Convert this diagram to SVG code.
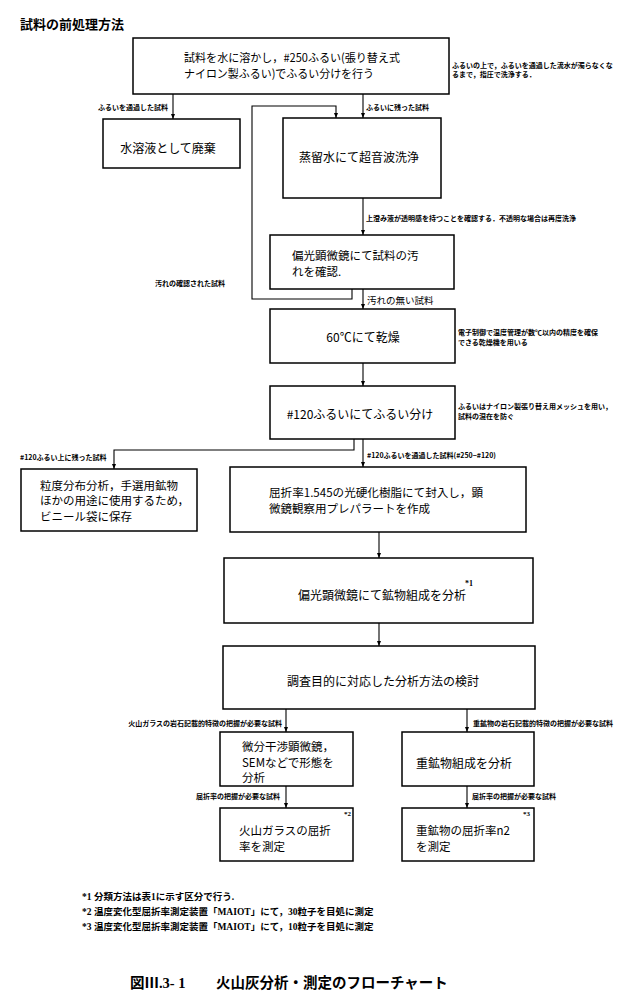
<svg xmlns="http://www.w3.org/2000/svg" width="625" height="996" viewBox="0 0 625 996">
<defs>
<style>
.box{fill:#fff;stroke:#000;stroke-width:1.5}
.t{font-family:"Noto Sans CJK JP","Noto Sans",sans-serif;font-size:12px;fill:#000}
.m{font-family:"Noto Sans CJK JP","Noto Sans",sans-serif;font-size:11.5px;fill:#000}
.s{font-family:"Noto Sans CJK JP","Noto Sans",sans-serif;font-size:7px;font-weight:700;fill:#000}
.c{stroke:#000;stroke-width:1.1;fill:none}
.a{marker-end:url(#arr)}
.fn{font-family:"Liberation Serif","Noto Sans CJK JP",serif;font-size:9.5px;font-weight:700;fill:#000}
.cap{font-family:"Liberation Serif","Noto Sans CJK JP",serif;font-size:14.5px;font-weight:700;fill:#000}
</style>
<marker id="arr" markerUnits="userSpaceOnUse" markerWidth="6" markerHeight="6" refX="5.5" refY="3" orient="auto">
<path d="M0,0.8 L5.5,3 L0,5.2 z" fill="#000"/>
</marker>
</defs>
<rect width="625" height="996" fill="#fff"/>
<text x="20" y="28.5" style="font-family:'Noto Sans CJK JP',sans-serif;font-size:13px;font-weight:700">試料の前処理方法</text>

<g id="connectors">
<path class="c a" d="M173,94 V119"/>
<path class="c a" d="M363,94 V118"/>
<path class="c a" d="M352,289 V299 H252 V106 H336 V118"/>
<path class="c a" d="M363,198 V235"/>
<path class="c a" d="M363,289 V309"/>
<path class="c a" d="M363,363 V386"/>
<path class="c a" d="M354,439 V450 H114 V469"/>
<path class="c a" d="M363,439 V467"/>
<path class="c a" d="M379,532 V558"/>
<path class="c a" d="M379,623 V646"/>
<path class="c a" d="M286,709 V732"/>
<path class="c a" d="M467,709 V732"/>
<path class="c a" d="M286,786 V808"/>
<path class="c a" d="M467,786 V808"/>
<text class="s" x="168" y="109.5" text-anchor="end">ふるいを通過した試料</text>
<text class="s" x="366" y="109.5">ふるいに残った試料</text>
<text class="s" x="366" y="220.5">上澄み液が透明感を持つことを確認する．不透明な場合は再度洗浄</text>
<text class="s" x="155" y="285.5">汚れの確認された試料</text>
<text x="367" y="303.5" style="font-family:'Noto Sans CJK JP',sans-serif;font-size:9.5px">汚れの無い試料</text>
<text class="s" x="20" y="459.5">#120ふるい上に残った試料</text>
<text class="s" x="367" y="457.5">#120ふるいを通過した試料(#250−#120)</text>
<text class="s" x="282" y="725.6" text-anchor="end">火山ガラスの岩石記載的特徴の把握が必要な試料</text>
<text class="s" x="473" y="725.6">重鉱物の岩石記載的特徴の把握が必要な試料</text>
<text class="s" x="280" y="798.6" text-anchor="end">屈折率の把握が必要な試料</text>
<text class="s" x="472" y="798.6">屈折率の把握が必要な試料</text>
</g>

<g id="n1">
<rect class="box" x="133" y="38" width="316" height="56"/>
<text class="m" x="184" y="62" textLength="216" lengthAdjust="spacingAndGlyphs">試料を水に溶かし，#250ふるい(張り替え式</text>
<text class="m" x="184" y="77.5" textLength="190" lengthAdjust="spacingAndGlyphs">ナイロン製ふるい)でふるい分けを行う</text>
<text class="s" x="452" y="68">ふるいの上で，ふるいを通過した流水が濁らなくな</text>
<text class="s" x="452" y="77">るまで，指圧で洗浄する．</text>
</g>

<g id="n2">
<rect class="box" x="103" y="119" width="137" height="49"/>
<text class="t" x="168" y="152.5" text-anchor="middle">水溶液として廃棄</text>
</g>

<g id="n3">
<rect class="box" x="283" y="118" width="158" height="80"/>
<text class="t" x="359" y="161.5" text-anchor="middle">蒸留水にて超音波洗浄</text>
</g>

<g id="n4">
<rect class="box" x="270" y="235" width="184" height="54"/>
<text class="m" x="292" y="260">偏光顕微鏡にて試料の汚</text>
<text class="m" x="292" y="275.5">れを確認.</text>
</g>

<g id="n5">
<rect class="box" x="270" y="309" width="185" height="54"/>
<text class="t" x="363" y="341.5" text-anchor="middle">60℃にて乾燥</text>
<text class="s" x="458" y="335">電子制御で温度管理が数℃以内の精度を確保</text>
<text class="s" x="458" y="344.5">できる乾燥機を用いる</text>
</g>

<g id="n6">
<rect class="box" x="270" y="386" width="185" height="53"/>
<text class="t" x="360" y="418.5" text-anchor="middle">#120ふるいにてふるい分け</text>
<text class="s" x="458" y="409">ふるいはナイロン製張り替え用メッシュを用い，</text>
<text class="s" x="458" y="418.5">試料の混在を防ぐ</text>
</g>

<g id="n7">
<rect class="box" x="21" y="469" width="176" height="62"/>
<text class="m" x="40" y="489.5">粒度分布分析，手選用鉱物</text>
<text class="m" x="40" y="505">ほかの用途に使用するため，</text>
<text class="m" x="40" y="520.5">ビニール袋に保存</text>
</g>

<g id="n8">
<rect class="box" x="230" y="467" width="296" height="65"/>
<text class="m" x="269" y="497" textLength="214" lengthAdjust="spacingAndGlyphs">屈折率1.545の光硬化樹脂にて封入し，顕</text>
<text class="m" x="269" y="512.5">微鏡観察用プレパラートを作成</text>
</g>

<g id="n9">
<rect class="box" x="224" y="558" width="309" height="65"/>
<text class="t" x="298" y="599.5">偏光顕微鏡にて鉱物組成を分析</text>
<text x="465" y="586" style="font-family:'Liberation Serif',serif;font-size:8px;font-weight:700">*1</text>
</g>

<g id="n10">
<rect class="box" x="223" y="646" width="312" height="63"/>
<text class="t" x="383" y="685.5" text-anchor="middle">調査目的に対応した分析方法の検討</text>
</g>

<g id="n11">
<rect class="box" x="220" y="732" width="133" height="54"/>
<text class="m" x="242" y="751">微分干渉顕微鏡，</text>
<text class="m" x="242" y="766.5">SEMなどで形態を</text>
<text class="m" x="242" y="782">分析</text>
</g>

<g id="n12">
<rect class="box" x="402" y="732" width="132" height="54"/>
<text class="t" x="416" y="767.5">重鉱物組成を分析</text>
</g>

<g id="n13">
<rect class="box" x="220" y="808" width="133" height="53"/>
<text class="m" x="239" y="835">火山ガラスの屈折</text>
<text class="m" x="239" y="850.5">率を測定</text>
<text x="344" y="816" style="font-family:'Liberation Serif',serif;font-size:7px;font-weight:700">*2</text>
</g>

<g id="n14">
<rect class="box" x="402" y="808" width="132" height="53"/>
<text class="m" x="416" y="835">重鉱物の屈折率n2</text>
<text class="m" x="416" y="850.5">を測定</text>
<text x="523" y="816" style="font-family:'Liberation Serif',serif;font-size:7px;font-weight:700">*3</text>
</g>

<g id="notes">
<text class="fn" x="82" y="899.5">*1 分類方法は表1に示す区分で行う.</text>
<text class="fn" x="82" y="914.5">*2 温度変化型屈折率測定装置「MAIOT」にて，30粒子を目処に測定</text>
<text class="fn" x="82" y="929.5">*3 温度変化型屈折率測定装置「MAIOT」にて，10粒子を目処に測定</text>
<text class="cap" x="130" y="988">図Ⅲ.3- 1</text>
<text class="cap" x="216" y="988">火山灰分析・測定のフローチャート</text>
</g>
</svg>
